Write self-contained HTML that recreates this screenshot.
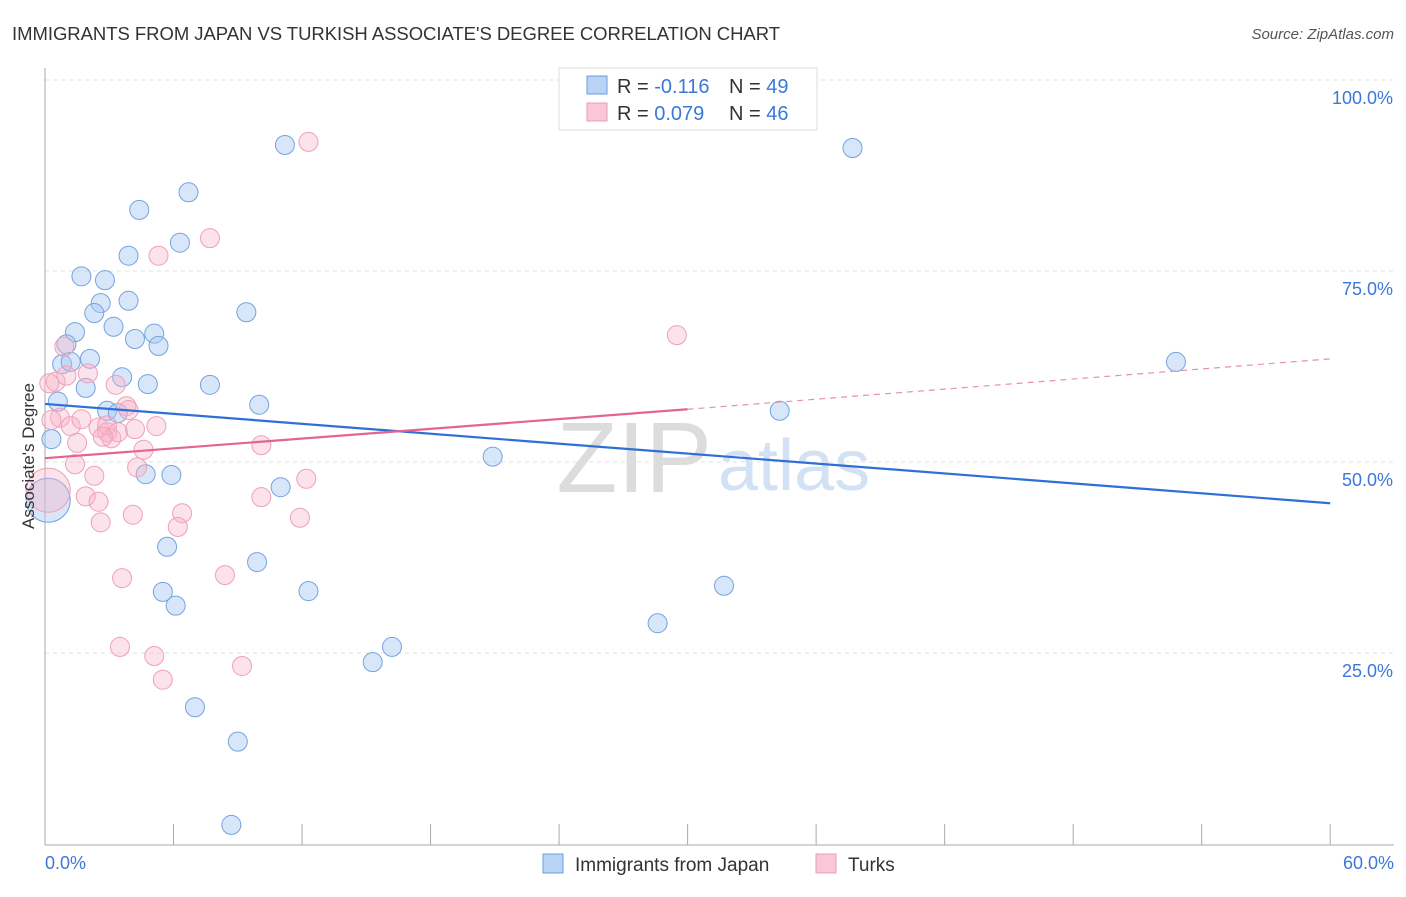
<!DOCTYPE html>
<html><head><meta charset="utf-8"><style>
body{margin:0;background:#fff;font-family:"Liberation Sans",sans-serif;}
svg text{font-family:"Liberation Sans",sans-serif;}
</style></head><body>
<svg id="chart" width="1406" height="892" xmlns="http://www.w3.org/2000/svg">
<text x="12" y="40" font-size="18.5" fill="#333" textLength="768">IMMIGRANTS FROM JAPAN VS TURKISH ASSOCIATE'S DEGREE CORRELATION CHART</text>
<text x="1394" y="39" font-size="15" fill="#555" text-anchor="end" font-style="italic">Source: ZipAtlas.com</text>
<text x="712" y="492" font-size="100" fill="#dcdcdc" text-anchor="end" font-family="Liberation Serif">ZIP</text>
<text x="718" y="490" font-size="72" fill="#d2e2f4">atlas</text>
<g id="grid"></g>
<g id="axes"></g>
<g id="pts"></g>
<g id="trends"></g>
<text transform="translate(34,456) rotate(-90)" font-size="17" fill="#333" text-anchor="middle">Associate's Degree</text>
<text x="45" y="869" font-size="18" fill="#3b78d8">0.0%</text>
<text x="1394" y="869" font-size="18" fill="#3b78d8" text-anchor="end">60.0%</text>
<g>
<rect x="559" y="68" width="258" height="62" fill="#fff" stroke="#ddd"/>
<rect x="587" y="76" width="20" height="18" fill="#b9d3f5" stroke="#6a9de0"/>
<rect x="587" y="103" width="20" height="18" fill="#fac7d6" stroke="#ef9bb4"/>
<text x="617" y="93" font-size="20" fill="#333">R = <tspan fill="#3b78d8">-0.116</tspan><tspan x="729">N = </tspan><tspan fill="#3b78d8">49</tspan></text>
<text x="617" y="120" font-size="20" fill="#333">R = <tspan fill="#3b78d8">0.079</tspan><tspan x="729">N = </tspan><tspan fill="#3b78d8">46</tspan></text>
</g>
<g>
<rect x="543" y="854" width="20" height="19" fill="#b9d3f5" stroke="#6a9de0"/>
<text x="575" y="871" font-size="19" fill="#333">Immigrants from Japan</text>
<rect x="816" y="854" width="20" height="19" fill="#fac7d6" stroke="#ef9bb4"/>
<text x="848" y="871" font-size="19" fill="#333">Turks</text>
</g>
</svg>
<script>
const yTicks=[25,50,75,100];
const yTickLabels=["25.0%","50.0%","75.0%","100.0%"];
const xTicks=[0,6,12,18,24,30,36,42,48,54,60];
const japanX=[11.2,37.7,6.7,4.4,6.3,3.9,1.7,2.8,3.9,2.6,2.3,9.4,3.2,1.4,4.2,5.1,5.3,1.0,2.1,0.8,1.2,3.6,4.8,7.7,1.9,0.6,10.0,2.9,3.4,34.3,0.3,4.7,5.9,20.9,11.0,0.15,5.7,9.9,31.7,5.5,12.3,6.1,28.6,16.2,15.3,7.0,9.0,8.7,52.8];
const japanY=[91.5,91.1,85.3,83.0,78.7,77.0,74.3,73.8,71.1,70.8,69.5,69.6,67.7,67.0,66.1,66.8,65.2,65.4,63.5,62.8,63.1,61.1,60.2,60.1,59.7,57.9,57.5,56.7,56.4,56.7,53.0,48.4,48.3,50.7,46.7,45.0,38.9,36.9,33.8,33.0,33.1,31.2,28.9,25.8,23.8,17.9,13.4,2.5,63.1];
const japanBig=[35];
const turksX=[12.3,7.7,5.3,29.5,0.9,0.5,1.0,2.0,3.3,0.7,1.2,1.7,2.5,2.9,3.8,3.9,2.9,3.1,4.2,5.2,4.6,1.5,4.3,1.4,2.3,10.1,12.2,1.9,2.5,2.6,4.1,6.4,6.2,10.1,11.9,3.6,8.4,3.5,5.1,5.5,9.2,0.15,0.3,3.4,0.2,2.7];
const turksY=[91.9,79.3,77.0,66.6,65.1,60.5,61.3,61.6,60.1,55.8,54.7,55.6,54.5,53.9,57.3,56.8,54.8,53.1,54.3,54.7,51.6,52.5,49.3,49.7,48.2,52.2,47.8,45.5,44.8,42.1,43.1,43.3,41.5,45.4,42.7,34.8,35.2,25.8,24.6,21.5,23.3,46.3,55.5,53.9,60.3,53.3];
const turksBig=[41];
const japanTrend=[57.6,44.6];
const turksTrend=[50.5,56.9,63.5];
const X=v=>45+v*21.42, Y=v=>844-v*7.64;
const NS="http://www.w3.org/2000/svg";
function mk(t,a,p){const e=document.createElementNS(NS,t);for(const k in a)e.setAttribute(k,a[k]);p.appendChild(e);return e;}
const grid=document.getElementById('grid'),axes=document.getElementById('axes'),pts=document.getElementById('pts'),tr=document.getElementById('trends');
yTicks.forEach((v,i)=>{
 const l=mk('line',{x1:45,x2:1394,y1:Y(v),y2:Y(v),stroke:'#e2e2e2','stroke-dasharray':'4,4'},grid);
 
 
 const t=mk('text',{x:1393,y:Y(v)+24,'font-size':18,fill:'#3b78d8','text-anchor':'end'},grid);
 t.textContent=yTickLabels[i];
 
 
});
const ax=mk('line',{x1:45,x2:45,y1:68,y2:845,stroke:'#aaa'},axes);


const bx=mk('line',{x1:45,x2:1394,y1:845,y2:845,stroke:'#aaa'},axes);


xTicks.forEach(v=>{
 const t=mk('line',{x1:X(v),x2:X(v),y1:824,y2:845,stroke:'#aaa'},axes);
 
 
});
function dots(xs,ys,big,fill,stroke,name){
 xs.forEach((x,i)=>{
  const c=mk('circle',{cx:X(x),cy:Y(ys[i]),r:big.includes(i)?22:9.5,fill:fill,stroke:stroke,'stroke-width':1},pts);
  
  
 });
}
dots(japanX,japanY,japanBig,'rgba(168,200,242,0.45)','#74a3e0','point-japan');
dots(turksX,turksY,turksBig,'rgba(248,180,200,0.38)','#efa0b8','point-turks');
const bl=mk('line',{x1:X(0),y1:Y(japanTrend[0]),x2:X(60),y2:Y(japanTrend[1]),stroke:'#2f6fd6','stroke-width':2.2},tr);


const pl=mk('line',{x1:X(0),y1:Y(turksTrend[0]),x2:X(30),y2:Y(turksTrend[1]),stroke:'#e4648f','stroke-width':2.2},tr);


const pd=mk('line',{x1:X(30),y1:Y(turksTrend[1]),x2:X(60),y2:Y(turksTrend[2]),stroke:'#e890aa','stroke-width':1.2,'stroke-dasharray':'6,5'},tr);


</script>
</body></html>
